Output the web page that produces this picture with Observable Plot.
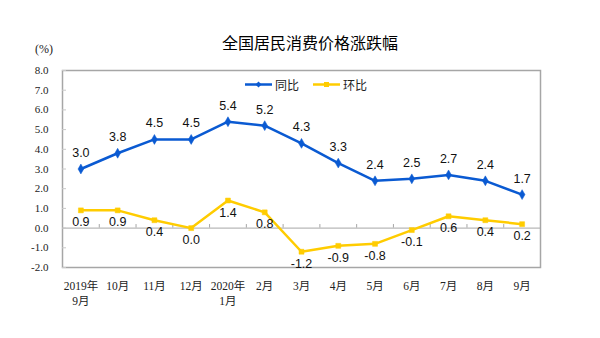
<!DOCTYPE html>
<html>
<head>
<meta charset="utf-8">
<script src="https://cdn.jsdelivr.net/npm/d3@7"></script>
<script src="https://cdn.jsdelivr.net/npm/@observablehq/plot@0.6"></script>
<style>
  html, body { margin: 0; padding: 0; background: #fff; }
  #wrap { position: relative; width: 600px; height: 338px; overflow: hidden; }
  #title { position: absolute; left: 0; width: 620px; top: 30px; text-align: center;
           font-family: "Noto Sans CJK SC", sans-serif; font-size: 16px; color: #000; }
  #unit { position: absolute; left: 35px; top: 42px; font-family: "Liberation Serif", "Noto Sans CJK SC", serif; font-size: 12px; color: #222; }
  #legend { position: absolute; top: 76px; left: 245px; display: flex; align-items: center;
            font-family: "Noto Sans CJK SC", sans-serif; font-size: 12px; color: #222; }
  #legend .item { display: flex; align-items: center; margin-right: 14px; }
  #legend svg { margin-right: 3px; }
</style>
</head>
<body>
<div id="wrap">
  <div id="chart"></div>
  <div id="title">全国居民消费价格涨跌幅</div>
  <div id="unit">(%)</div>
  <div id="legend"></div>
</div>
<script>
const categories = ["2019年\n9月","10月","11月","12月","2020年\n1月","2月","3月","4月","5月","6月","7月","8月","9月"];
const yoyValues = [3.0, 3.8, 4.5, 4.5, 5.4, 5.2, 4.3, 3.3, 2.4, 2.5, 2.7, 2.4, 1.7];
const momValues = [0.9, 0.9, 0.4, 0.0, 1.4, 0.8, -1.2, -0.9, -0.8, -0.1, 0.6, 0.4, 0.2];
const yTicks = [-2, -1, 0, 1, 2, 3, 4, 5, 6, 7, 8];
const seriesNames = ["同比", "环比"];

const blue = "#0a5ad2";
const yellow = "#ffcc00";
const gray = "#a6a6a6";

const yoy = categories.map((c, i) => ({cat: c, v: yoyValues[i]}));
const mom = categories.map((c, i) => ({cat: c, v: momValues[i]}));

const W = 600, H = 338, mL = 62, mR = 60, mT = 70, mB = 71;
const bw = (W - mL - mR) / categories.length;
const fmt = v => v.toFixed(1);
const serif = "Liberation Serif, Noto Sans CJK SC, serif";
const sans = "Liberation Sans, Arial, sans-serif";

const chart = Plot.plot({
  width: W, height: H,
  marginLeft: mL, marginRight: mR, marginTop: mT, marginBottom: mB,
  x: {type: "band", domain: categories, padding: 0, round: false, label: null},
  y: {domain: [-2, 8], label: null},
  marks: [
    Plot.frame({stroke: gray, strokeWidth: 1.5}),
    Plot.ruleY([0], {stroke: gray, strokeWidth: 1}),
    Plot.tickY(yTicks, {y: d => d, x: () => categories[0], insetRight: bw - 4, stroke: "#c8c8c8"}),
    Plot.ruleX(categories.slice(1), {x: d => d, y1: 0, y2: 0.18, dx: -bw / 2, stroke: gray}),
    Plot.axisY({ticks: yTicks, tickSize: 0, tickPadding: 14, tickFormat: fmt, label: null,
                fontFamily: serif, fontSize: 11, fill: "#222"}),
    Plot.axisX({tickSize: 0, tickPadding: 12, fontFamily: serif, fontSize: 11.5, label: null,
                lineHeight: 1.3, fill: "#222"}),
    Plot.line(yoy, {x: "cat", y: "v", stroke: blue, strokeWidth: 2.5}),
    Plot.dot(yoy, {x: "cat", y: "v", symbol: "diamond", r: 3, fill: blue, stroke: blue, strokeWidth: 0.5}),
    Plot.line(mom, {x: "cat", y: "v", stroke: yellow, strokeWidth: 2.5}),
    Plot.dot(mom, {x: "cat", y: "v", symbol: "square", r: 2.8, fill: yellow, stroke: yellow, strokeWidth: 0.5}),
    Plot.text(yoy, {x: "cat", y: "v", text: d => fmt(d.v), dy: -16, fontFamily: sans, fontSize: 12.5, fill: "#111"}),
    Plot.text(mom, {x: "cat", y: "v", text: d => fmt(d.v), dy: 12, fontFamily: sans, fontSize: 12.5, fill: "#111"})
  ]
});
document.getElementById("chart").appendChild(chart);

const legend = document.getElementById("legend");
[[seriesNames[0], blue, "diamond"], [seriesNames[1], yellow, "square"]].forEach(([name, color, shape]) => {
  const item = document.createElement("div");
  item.className = "item";
  const marker = shape === "diamond"
    ? `<path d="M13.5 1.5 L16.5 4.5 L13.5 7.5 L10.5 4.5 Z" fill="${color}"/>`
    : `<rect x="11" y="2" width="5" height="5" fill="${color}"/>`;
  item.innerHTML = `<svg width="27" height="9"><line x1="0" y1="4.5" x2="27" y2="4.5" stroke="${color}" stroke-width="2.5"/>${marker}</svg><span>${name}</span>`;
  legend.appendChild(item);
});
</script>
</body>
</html>
